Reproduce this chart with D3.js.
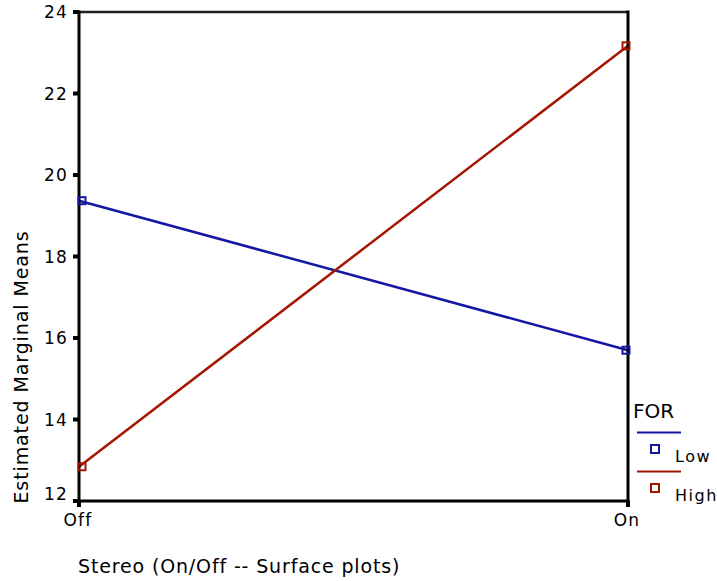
<!DOCTYPE html>
<html>
<head>
<meta charset="utf-8">
<script src="https://cdn.jsdelivr.net/npm/d3@7"></script>
<style>
  body { margin: 0; background: #fff; }
  text { font-family: "DejaVu Sans", sans-serif; fill: #000; }
</style>
</head>
<body>
<svg id="chart" width="717" height="581"></svg>
<script>
const categories = ['Off', 'On'];
const lowValues = [19.37, 15.7];
const highValues = [12.84, 23.17];
const yTicks = [12, 14, 16, 18, 20, 22, 24];
const seriesNames = ['Low', 'High'];
const seriesColors = ['#1616a4', '#a41600'];

const svg = d3.select('#chart');
const plotLeft = 79, plotRight = 628, plotTop = 12, plotBottom = 501;

const x = d3.scalePoint().domain(categories).range([plotLeft, plotRight]);
const y = d3.scaleLinear().domain([12, 24]).range([plotBottom, plotTop]);

// series first, frame drawn over it
const series = [lowValues, highValues];
const line = d3.line().x((d, i) => x(categories[i])).y(d => y(d));
series.forEach((vals, si) => {
  svg.append('path').datum(vals).attr('d', line).attr('fill', 'none')
    .attr('stroke', seriesColors[si]).attr('stroke-width', 2.5);
});

// frame
svg.append('line').attr('x1', plotLeft).attr('x2', plotRight).attr('y1', plotTop).attr('y2', plotTop)
  .attr('stroke', '#222').attr('stroke-width', 2.5);
[[plotLeft, plotTop, plotLeft, plotBottom], [plotRight, plotTop, plotRight, plotBottom], [plotLeft, plotBottom, plotRight, plotBottom]]
  .forEach(([x1, y1, x2, y2]) => svg.append('line').attr('x1', x1).attr('y1', y1).attr('x2', x2).attr('y2', y2)
    .attr('stroke', '#000').attr('stroke-width', 3).attr('stroke-linecap', 'square'));

// markers
series.forEach((vals, si) => {
  vals.forEach((v, i) => {
    const cx = x(categories[i]) + (i === 0 ? 3 : -2);
    svg.append('rect').attr('x', cx - 3.5).attr('y', y(v) - 3.5).attr('width', 7).attr('height', 7)
      .attr('fill', 'none').attr('stroke', seriesColors[si]).attr('stroke-width', 2);
  });
});

// y ticks
yTicks.forEach(t => {
  svg.append('rect').attr('x', plotLeft - 6).attr('y', y(t) - 2).attr('width', 6).attr('height', 4).attr('fill', '#000');
  svg.append('text').attr('x', 68).attr('y', Math.min(y(t) + 6, plotBottom - 1)).attr('text-anchor', 'end')
    .style('font-size', '17px').style('letter-spacing', '1.2px').text(t);
});

// x ticks
categories.forEach(c => {
  svg.append('rect').attr('x', x(c) - 2).attr('y', plotBottom).attr('width', 4).attr('height', 6).attr('fill', '#000');
  svg.append('text').attr('x', x(c) - 1).attr('y', 526).attr('text-anchor', 'middle')
    .style('font-size', '17px').style('letter-spacing', '1.2px').text(c);
});

// axis titles
svg.append('text').attr('transform', `translate(28,367) rotate(-90)`).attr('text-anchor', 'middle')
  .style('font-size', '19px').style('letter-spacing', '0.9px').text('Estimated Marginal Means');
svg.append('text').attr('x', 78).attr('y', 573)
  .style('font-size', '19px').style('letter-spacing', '0.85px').text('Stereo (On/Off -- Surface plots)');

// legend
svg.append('text').attr('x', 633).attr('y', 418).style('font-size', '20px').text('FOR');
seriesNames.forEach((name, i) => {
  const ly = 432.5 + i * 39;
  svg.append('line').attr('x1', 637).attr('x2', 681).attr('y1', ly).attr('y2', ly)
    .attr('stroke', seriesColors[i]).attr('stroke-width', 2);
  svg.append('rect').attr('x', 651).attr('y', ly + 12.5).attr('width', 8).attr('height', 8)
    .attr('fill', 'none').attr('stroke', seriesColors[i]).attr('stroke-width', 2);
  svg.append('text').attr('x', 675).attr('y', ly + 29).style('font-size', '16px').style('letter-spacing', '1.5px').text(name);
});
</script>
</body>
</html>
